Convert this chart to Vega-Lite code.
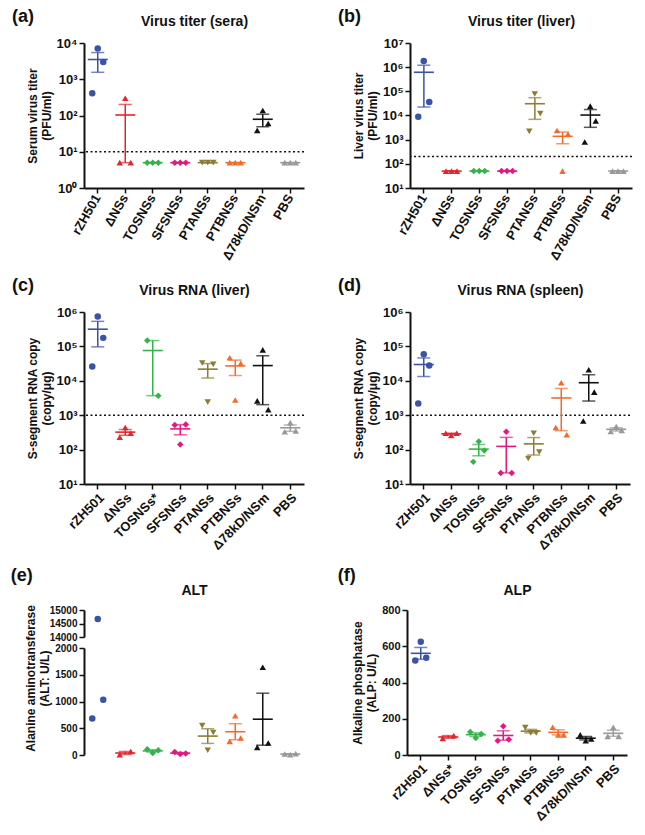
{
  "$schema": "https://vega.github.io/schema/vega-lite/v6.json",
  "padding": {"left": 10, "top": 8, "right": 4, "bottom": 4},
  "background": "white",
  "spacing": 14,
  "align": "each",
  "config": {
    "font": "Liberation Sans",
    "view": {"stroke": null},
    "concat": {"spacing": 33},
    "title": {"fontSize": 18, "fontWeight": "bold", "anchor": "start", "frame": "bounds", "color": "#111", "dx": -14, "offset": -12},
    "axis": {"labelFontWeight": "bold", "labelColor": "#111", "titleFontWeight": "bold", "titleColor": "#111", "titleFontSize": 12, "domainColor": "#111", "domainWidth": 2, "tickColor": "#111", "tickWidth": 1.5, "tickSize": 5, "grid": false, "labelFontSize": 13}
  },
  "datasets": {
    "a": [
      {"g": "rZH501", "m": 1, "v": 410}, {"g": "rZH501", "m": 2, "v": 7100}, {"g": "rZH501", "m": 3, "v": 3000},
      {"g": "ΔNSs", "m": 1, "v": 5}, {"g": "ΔNSs", "m": 2, "v": 300}, {"g": "ΔNSs", "m": 3, "v": 5},
      {"g": "TOSNSs", "m": 1, "v": 5}, {"g": "TOSNSs", "m": 2, "v": 5}, {"g": "TOSNSs", "m": 3, "v": 5},
      {"g": "SFSNSs", "m": 1, "v": 5}, {"g": "SFSNSs", "m": 2, "v": 5}, {"g": "SFSNSs", "m": 3, "v": 5},
      {"g": "PTANSs", "m": 1, "v": 5}, {"g": "PTANSs", "m": 2, "v": 5}, {"g": "PTANSs", "m": 3, "v": 5},
      {"g": "PTBNSs", "m": 1, "v": 5}, {"g": "PTBNSs", "m": 2, "v": 5}, {"g": "PTBNSs", "m": 3, "v": 5},
      {"g": "Δ78kD/NSm", "m": 1, "v": 39}, {"g": "Δ78kD/NSm", "m": 2, "v": 137}, {"g": "Δ78kD/NSm", "m": 3, "v": 60},
      {"g": "PBS", "m": 1, "v": 5}, {"g": "PBS", "m": 2, "v": 5}, {"g": "PBS", "m": 3, "v": 5}
    ],
    "b": [
      {"g": "rZH501", "m": 1, "v": 8800}, {"g": "rZH501", "m": 2, "v": 1800000}, {"g": "rZH501", "m": 3, "v": 36000},
      {"g": "ΔNSs", "m": 1, "v": 50}, {"g": "ΔNSs", "m": 2, "v": 50}, {"g": "ΔNSs", "m": 3, "v": 50},
      {"g": "TOSNSs", "m": 1, "v": 50}, {"g": "TOSNSs", "m": 2, "v": 50}, {"g": "TOSNSs", "m": 3, "v": 50},
      {"g": "SFSNSs", "m": 1, "v": 50}, {"g": "SFSNSs", "m": 2, "v": 50}, {"g": "SFSNSs", "m": 3, "v": 50},
      {"g": "PTANSs", "m": 1, "v": 2200}, {"g": "PTANSs", "m": 2, "v": 78000}, {"g": "PTANSs", "m": 3, "v": 12000},
      {"g": "PTBNSs", "m": 1, "v": 2400}, {"g": "PTBNSs", "m": 2, "v": 50}, {"g": "PTBNSs", "m": 3, "v": 1670},
      {"g": "Δ78kD/NSm", "m": 1, "v": 800}, {"g": "Δ78kD/NSm", "m": 2, "v": 24500}, {"g": "Δ78kD/NSm", "m": 3, "v": 6000},
      {"g": "PBS", "m": 1, "v": 50}, {"g": "PBS", "m": 2, "v": 50}, {"g": "PBS", "m": 3, "v": 50}
    ],
    "c": [
      {"g": "rZH501", "m": 1, "v": 26000}, {"g": "rZH501", "m": 2, "v": 745000}, {"g": "rZH501", "m": 3, "v": 177000},
      {"g": "ΔNSs", "m": 1, "v": 229}, {"g": "ΔNSs", "m": 2, "v": 437}, {"g": "ΔNSs", "m": 3, "v": 300},
      {"g": "TOSNSs", "m": 1, "v": 148000}, {"g": "TOSNSs", "m": 3, "v": 3700},
      {"g": "SFSNSs", "m": 1, "v": 520}, {"g": "SFSNSs", "m": 2, "v": 141}, {"g": "SFSNSs", "m": 3, "v": 540},
      {"g": "PTANSs", "m": 1, "v": 33000}, {"g": "PTANSs", "m": 2, "v": 2400}, {"g": "PTANSs", "m": 3, "v": 30000},
      {"g": "PTBNSs", "m": 1, "v": 46600}, {"g": "PTBNSs", "m": 2, "v": 2760}, {"g": "PTBNSs", "m": 3, "v": 32000},
      {"g": "Δ78kD/NSm", "m": 1, "v": 2600}, {"g": "Δ78kD/NSm", "m": 2, "v": 79000}, {"g": "Δ78kD/NSm", "m": 3, "v": 1450},
      {"g": "PBS", "m": 1, "v": 330}, {"g": "PBS", "m": 2, "v": 610}, {"g": "PBS", "m": 3, "v": 350}
    ],
    "d": [
      {"g": "rZH501", "m": 1, "v": 2200}, {"g": "rZH501", "m": 2, "v": 59000}, {"g": "rZH501", "m": 3, "v": 28000},
      {"g": "ΔNSs", "m": 1, "v": 300}, {"g": "ΔNSs", "m": 2, "v": 260}, {"g": "ΔNSs", "m": 3, "v": 300},
      {"g": "TOSNSs", "m": 1, "v": 44}, {"g": "TOSNSs", "m": 2, "v": 172}, {"g": "TOSNSs", "m": 3, "v": 94},
      {"g": "SFSNSs", "m": 1, "v": 21}, {"g": "SFSNSs", "m": 2, "v": 330}, {"g": "SFSNSs", "m": 3, "v": 21},
      {"g": "PTANSs", "m": 1, "v": 55}, {"g": "PTANSs", "m": 2, "v": 300}, {"g": "PTANSs", "m": 3, "v": 85},
      {"g": "PTBNSs", "m": 1, "v": 440}, {"g": "PTBNSs", "m": 2, "v": 8800}, {"g": "PTBNSs", "m": 3, "v": 270},
      {"g": "Δ78kD/NSm", "m": 1, "v": 680}, {"g": "Δ78kD/NSm", "m": 2, "v": 21000}, {"g": "Δ78kD/NSm", "m": 3, "v": 4700},
      {"g": "PBS", "m": 1, "v": 335}, {"g": "PBS", "m": 2, "v": 470}, {"g": "PBS", "m": 3, "v": 360}
    ],
    "e": [
      {"g": "rZH501", "m": 1, "v": 683}, {"g": "rZH501", "m": 2, "v": 14670}, {"g": "rZH501", "m": 3, "v": 1031},
      {"g": "ΔNSs", "m": 1, "v": 8}, {"g": "ΔNSs", "m": 3, "v": 66},
      {"g": "TOSNSs", "m": 1, "v": 106}, {"g": "TOSNSs", "m": 2, "v": 37}, {"g": "TOSNSs", "m": 3, "v": 87},
      {"g": "SFSNSs", "m": 1, "v": 56}, {"g": "SFSNSs", "m": 2, "v": 20}, {"g": "SFSNSs", "m": 3, "v": 28},
      {"g": "PTANSs", "m": 1, "v": 550}, {"g": "PTANSs", "m": 2, "v": 90}, {"g": "PTANSs", "m": 3, "v": 420},
      {"g": "PTBNSs", "m": 1, "v": 255}, {"g": "PTBNSs", "m": 2, "v": 733}, {"g": "PTBNSs", "m": 3, "v": 317},
      {"g": "Δ78kD/NSm", "m": 1, "v": 143}, {"g": "Δ78kD/NSm", "m": 2, "v": 1640}, {"g": "Δ78kD/NSm", "m": 3, "v": 224},
      {"g": "PBS", "m": 1, "v": 19}, {"g": "PBS", "m": 2, "v": 6}, {"g": "PBS", "m": 3, "v": 25}
    ],
    "f": [
      {"g": "rZH501", "m": 1, "v": 522}, {"g": "rZH501", "m": 2, "v": 625}, {"g": "rZH501", "m": 3, "v": 536},
      {"g": "ΔNSs", "m": 1, "v": 92}, {"g": "ΔNSs", "m": 3, "v": 107},
      {"g": "TOSNSs", "m": 1, "v": 127}, {"g": "TOSNSs", "m": 2, "v": 94}, {"g": "TOSNSs", "m": 3, "v": 116},
      {"g": "SFSNSs", "m": 1, "v": 79}, {"g": "SFSNSs", "m": 2, "v": 159}, {"g": "SFSNSs", "m": 3, "v": 85},
      {"g": "PTANSs", "m": 1, "v": 151}, {"g": "PTANSs", "m": 2, "v": 122}, {"g": "PTANSs", "m": 3, "v": 122},
      {"g": "PTBNSs", "m": 1, "v": 153}, {"g": "PTBNSs", "m": 2, "v": 111}, {"g": "PTBNSs", "m": 3, "v": 111},
      {"g": "Δ78kD/NSm", "m": 1, "v": 111}, {"g": "Δ78kD/NSm", "m": 2, "v": 79}, {"g": "Δ78kD/NSm", "m": 3, "v": 88},
      {"g": "PBS", "m": 1, "v": 103}, {"g": "PBS", "m": 2, "v": 153}, {"g": "PBS", "m": 3, "v": 103}
    ]
  },
  "vconcat": [
    {
      "hconcat": [
        {
          "title": {"text": "(a)"},
          "width": 220, "height": 145,
          "data": {"name": "a"},
          "resolve": {"axis": {"x": "independent"}},
          "layer": [
            {"data": {"values": [{}]}, "mark": {"type": "rule", "strokeDash": [2, 2.5], "strokeWidth": 1.5, "color": "#111"},
             "encoding": {"y": {"datum": 10, "type": "quantitative", "scale": {"type": "log", "domain": [1, 10000], "nice": false}, "axis": {"values": [1, 10, 100, 1000, 10000], "labelExpr": "'10' + ['⁰','¹','²','³','⁴','⁵','⁶','⁷'][round(log(datum.value)/LN10)]", "title": ["Serum virus titer", "(PFU/ml)"], "titlePadding": 3}}}},
            {"mark": {"type": "errorbar", "extent": "stderr", "ticks": true, "size": 13, "thickness": 1.5},
             "encoding": {
               "x": {"field": "g", "type": "nominal", "scale": {"type": "band", "domain": ["rZH501", "ΔNSs", "TOSNSs", "SFSNSs", "PTANSs", "PTBNSs", "Δ78kD/NSm", "PBS"], "paddingInner": 0, "paddingOuter": 0}, "axis": null},
               "y": {"field": "v", "type": "quantitative", "scale": {"type": "log", "domain": [1, 10000], "nice": false}, "axis": {"values": [1, 10, 100, 1000, 10000], "labelExpr": "'10' + ['⁰','¹','²','³','⁴','⁵','⁶','⁷'][round(log(datum.value)/LN10)]", "title": ["Serum virus titer", "(PFU/ml)"], "titlePadding": 3}},
               "color": {"field": "g", "type": "nominal", "scale": {"domain": ["rZH501", "ΔNSs", "TOSNSs", "SFSNSs", "PTANSs", "PTBNSs", "Δ78kD/NSm", "PBS"], "range": ["#3a53a4", "#e3262d", "#34b34a", "#e3197f", "#8b7d35", "#f26b2d", "#111111", "#999999"]}, "legend": null}}},
            {"mark": {"type": "tick", "size": 20, "thickness": 1.6},
             "encoding": {
               "x": {"field": "g", "type": "nominal", "scale": {"type": "band", "domain": ["rZH501", "ΔNSs", "TOSNSs", "SFSNSs", "PTANSs", "PTBNSs", "Δ78kD/NSm", "PBS"], "paddingInner": 0, "paddingOuter": 0}, "axis": {"orient": "top", "title": "Virus titer (sera)", "labels": false, "ticks": false, "domain": false, "titleFontSize": 14, "titlePadding": 15}},
               "y": {"aggregate": "mean", "field": "v", "type": "quantitative", "scale": {"type": "log", "domain": [1, 10000], "nice": false}, "axis": {"values": [1, 10, 100, 1000, 10000], "labelExpr": "'10' + ['⁰','¹','²','³','⁴','⁵','⁶','⁷'][round(log(datum.value)/LN10)]", "title": ["Serum virus titer", "(PFU/ml)"], "titlePadding": 3}},
               "color": {"field": "g", "type": "nominal", "scale": {"domain": ["rZH501", "ΔNSs", "TOSNSs", "SFSNSs", "PTANSs", "PTBNSs", "Δ78kD/NSm", "PBS"], "range": ["#3a53a4", "#e3262d", "#34b34a", "#e3197f", "#8b7d35", "#f26b2d", "#111111", "#999999"]}, "legend": null}}},
            {"mark": {"type": "point", "filled": true, "size": 42, "opacity": 1},
             "encoding": {
               "x": {"field": "g", "type": "nominal", "scale": {"type": "band", "domain": ["rZH501", "ΔNSs", "TOSNSs", "SFSNSs", "PTANSs", "PTBNSs", "Δ78kD/NSm", "PBS"], "paddingInner": 0, "paddingOuter": 0}, "axis": {"title": null, "labelAngle": -60, "labelPadding": 2}},
               "xOffset": {"field": "m", "type": "ordinal", "scale": {"domain": [1, 2, 3], "range": [5.5, 22]}},
               "y": {"field": "v", "type": "quantitative", "scale": {"type": "log", "domain": [1, 10000], "nice": false}, "axis": {"values": [1, 10, 100, 1000, 10000], "labelExpr": "'10' + ['⁰','¹','²','³','⁴','⁵','⁶','⁷'][round(log(datum.value)/LN10)]", "title": ["Serum virus titer", "(PFU/ml)"], "titlePadding": 3}},
               "color": {"field": "g", "type": "nominal", "scale": {"domain": ["rZH501", "ΔNSs", "TOSNSs", "SFSNSs", "PTANSs", "PTBNSs", "Δ78kD/NSm", "PBS"], "range": ["#3a53a4", "#e3262d", "#34b34a", "#e3197f", "#8b7d35", "#f26b2d", "#111111", "#999999"]}, "legend": null},
               "shape": {"field": "g", "type": "nominal", "scale": {"domain": ["rZH501", "ΔNSs", "TOSNSs", "SFSNSs", "PTANSs", "PTBNSs", "Δ78kD/NSm", "PBS"], "range": ["circle", "triangle-up", "diamond", "diamond", "triangle-down", "triangle-up", "triangle-up", "triangle-up"]}, "legend": null}}}
          ]
        },
        {
          "title": {"text": "(b)"},
          "width": 222, "height": 145,
          "data": {"name": "b"},
          "resolve": {"axis": {"x": "independent"}},
          "layer": [
            {"data": {"values": [{}]}, "mark": {"type": "rule", "strokeDash": [2, 2.5], "strokeWidth": 1.5, "color": "#111"},
             "encoding": {"y": {"datum": 200, "type": "quantitative", "scale": {"type": "log", "domain": [10, 10000000], "nice": false}, "axis": {"values": [10, 100, 1000, 10000, 100000, 1000000, 10000000], "labelExpr": "'10' + ['⁰','¹','²','³','⁴','⁵','⁶','⁷'][round(log(datum.value)/LN10)]", "title": ["Liver virus titer", "(PFU/ml)"], "titlePadding": 3}}}},
            {"mark": {"type": "errorbar", "extent": "stderr", "ticks": true, "size": 13, "thickness": 1.5},
             "encoding": {
               "x": {"field": "g", "type": "nominal", "scale": {"type": "band", "domain": ["rZH501", "ΔNSs", "TOSNSs", "SFSNSs", "PTANSs", "PTBNSs", "Δ78kD/NSm", "PBS"], "paddingInner": 0, "paddingOuter": 0}, "axis": null},
               "y": {"field": "v", "type": "quantitative", "scale": {"type": "log", "domain": [10, 10000000], "nice": false}, "axis": {"values": [10, 100, 1000, 10000, 100000, 1000000, 10000000], "labelExpr": "'10' + ['⁰','¹','²','³','⁴','⁵','⁶','⁷'][round(log(datum.value)/LN10)]", "title": ["Liver virus titer", "(PFU/ml)"], "titlePadding": 3}},
               "color": {"field": "g", "type": "nominal", "scale": {"domain": ["rZH501", "ΔNSs", "TOSNSs", "SFSNSs", "PTANSs", "PTBNSs", "Δ78kD/NSm", "PBS"], "range": ["#3a53a4", "#e3262d", "#34b34a", "#e3197f", "#8b7d35", "#f26b2d", "#111111", "#999999"]}, "legend": null}}},
            {"mark": {"type": "tick", "size": 20, "thickness": 1.6},
             "encoding": {
               "x": {"field": "g", "type": "nominal", "scale": {"type": "band", "domain": ["rZH501", "ΔNSs", "TOSNSs", "SFSNSs", "PTANSs", "PTBNSs", "Δ78kD/NSm", "PBS"], "paddingInner": 0, "paddingOuter": 0}, "axis": {"orient": "top", "title": "Virus titer (liver)", "labels": false, "ticks": false, "domain": false, "titleFontSize": 14, "titlePadding": 15}},
               "y": {"aggregate": "mean", "field": "v", "type": "quantitative", "scale": {"type": "log", "domain": [10, 10000000], "nice": false}, "axis": {"values": [10, 100, 1000, 10000, 100000, 1000000, 10000000], "labelExpr": "'10' + ['⁰','¹','²','³','⁴','⁵','⁶','⁷'][round(log(datum.value)/LN10)]", "title": ["Liver virus titer", "(PFU/ml)"], "titlePadding": 3}},
               "color": {"field": "g", "type": "nominal", "scale": {"domain": ["rZH501", "ΔNSs", "TOSNSs", "SFSNSs", "PTANSs", "PTBNSs", "Δ78kD/NSm", "PBS"], "range": ["#3a53a4", "#e3262d", "#34b34a", "#e3197f", "#8b7d35", "#f26b2d", "#111111", "#999999"]}, "legend": null}}},
            {"mark": {"type": "point", "filled": true, "size": 42, "opacity": 1},
             "encoding": {
               "x": {"field": "g", "type": "nominal", "scale": {"type": "band", "domain": ["rZH501", "ΔNSs", "TOSNSs", "SFSNSs", "PTANSs", "PTBNSs", "Δ78kD/NSm", "PBS"], "paddingInner": 0, "paddingOuter": 0}, "axis": {"title": null, "labelAngle": -60, "labelPadding": 2}},
               "xOffset": {"field": "m", "type": "ordinal", "scale": {"domain": [1, 2, 3], "range": [5.5, 22]}},
               "y": {"field": "v", "type": "quantitative", "scale": {"type": "log", "domain": [10, 10000000], "nice": false}, "axis": {"values": [10, 100, 1000, 10000, 100000, 1000000, 10000000], "labelExpr": "'10' + ['⁰','¹','²','³','⁴','⁵','⁶','⁷'][round(log(datum.value)/LN10)]", "title": ["Liver virus titer", "(PFU/ml)"], "titlePadding": 3}},
               "color": {"field": "g", "type": "nominal", "scale": {"domain": ["rZH501", "ΔNSs", "TOSNSs", "SFSNSs", "PTANSs", "PTBNSs", "Δ78kD/NSm", "PBS"], "range": ["#3a53a4", "#e3262d", "#34b34a", "#e3197f", "#8b7d35", "#f26b2d", "#111111", "#999999"]}, "legend": null},
               "shape": {"field": "g", "type": "nominal", "scale": {"domain": ["rZH501", "ΔNSs", "TOSNSs", "SFSNSs", "PTANSs", "PTBNSs", "Δ78kD/NSm", "PBS"], "range": ["circle", "triangle-up", "diamond", "diamond", "triangle-down", "triangle-up", "triangle-up", "triangle-up"]}, "legend": null}}}
          ]
        }
      ]
    },
    {
      "hconcat": [
        {
          "title": {"text": "(c)"},
          "width": 220, "height": 172,
          "data": {"name": "c"},
          "resolve": {"axis": {"x": "independent"}},
          "layer": [
            {"data": {"values": [{}]}, "mark": {"type": "rule", "strokeDash": [2, 2.5], "strokeWidth": 1.5, "color": "#111"},
             "encoding": {"y": {"datum": 1000, "type": "quantitative", "scale": {"type": "log", "domain": [10, 1000000], "nice": false}, "axis": {"values": [10, 100, 1000, 10000, 100000, 1000000], "labelExpr": "'10' + ['⁰','¹','²','³','⁴','⁵','⁶','⁷'][round(log(datum.value)/LN10)]", "title": ["S-segment RNA copy", "(copy/μg)"], "titlePadding": 3}}}},
            {"mark": {"type": "errorbar", "extent": "stderr", "ticks": true, "size": 13, "thickness": 1.5},
             "encoding": {
               "x": {"field": "g", "type": "nominal", "scale": {"type": "band", "domain": ["rZH501", "ΔNSs", "TOSNSs", "SFSNSs", "PTANSs", "PTBNSs", "Δ78kD/NSm", "PBS"], "paddingInner": 0, "paddingOuter": 0}, "axis": null},
               "y": {"field": "v", "type": "quantitative", "scale": {"type": "log", "domain": [10, 1000000], "nice": false}, "axis": {"values": [10, 100, 1000, 10000, 100000, 1000000], "labelExpr": "'10' + ['⁰','¹','²','³','⁴','⁵','⁶','⁷'][round(log(datum.value)/LN10)]", "title": ["S-segment RNA copy", "(copy/μg)"], "titlePadding": 3}},
               "color": {"field": "g", "type": "nominal", "scale": {"domain": ["rZH501", "ΔNSs", "TOSNSs", "SFSNSs", "PTANSs", "PTBNSs", "Δ78kD/NSm", "PBS"], "range": ["#3a53a4", "#e3262d", "#34b34a", "#e3197f", "#8b7d35", "#f26b2d", "#111111", "#999999"]}, "legend": null}}},
            {"mark": {"type": "tick", "size": 20, "thickness": 1.6},
             "encoding": {
               "x": {"field": "g", "type": "nominal", "scale": {"type": "band", "domain": ["rZH501", "ΔNSs", "TOSNSs", "SFSNSs", "PTANSs", "PTBNSs", "Δ78kD/NSm", "PBS"], "paddingInner": 0, "paddingOuter": 0}, "axis": {"orient": "top", "title": "Virus RNA (liver)", "labels": false, "ticks": false, "domain": false, "titleFontSize": 14, "titlePadding": 15}},
               "y": {"aggregate": "mean", "field": "v", "type": "quantitative", "scale": {"type": "log", "domain": [10, 1000000], "nice": false}, "axis": {"values": [10, 100, 1000, 10000, 100000, 1000000], "labelExpr": "'10' + ['⁰','¹','²','³','⁴','⁵','⁶','⁷'][round(log(datum.value)/LN10)]", "title": ["S-segment RNA copy", "(copy/μg)"], "titlePadding": 3}},
               "color": {"field": "g", "type": "nominal", "scale": {"domain": ["rZH501", "ΔNSs", "TOSNSs", "SFSNSs", "PTANSs", "PTBNSs", "Δ78kD/NSm", "PBS"], "range": ["#3a53a4", "#e3262d", "#34b34a", "#e3197f", "#8b7d35", "#f26b2d", "#111111", "#999999"]}, "legend": null}}},
            {"mark": {"type": "point", "filled": true, "size": 42, "opacity": 1},
             "encoding": {
               "x": {"field": "g", "type": "nominal", "scale": {"type": "band", "domain": ["rZH501", "ΔNSs", "TOSNSs", "SFSNSs", "PTANSs", "PTBNSs", "Δ78kD/NSm", "PBS"], "paddingInner": 0, "paddingOuter": 0}, "axis": {"title": null, "labelAngle": -45, "labelPadding": 2, "labelExpr": "datum.value == 'TOSNSs' ? 'TOSNSs*' : datum.value"}},
               "xOffset": {"field": "m", "type": "ordinal", "scale": {"domain": [1, 2, 3], "range": [5.5, 22]}},
               "y": {"field": "v", "type": "quantitative", "scale": {"type": "log", "domain": [10, 1000000], "nice": false}, "axis": {"values": [10, 100, 1000, 10000, 100000, 1000000], "labelExpr": "'10' + ['⁰','¹','²','³','⁴','⁵','⁶','⁷'][round(log(datum.value)/LN10)]", "title": ["S-segment RNA copy", "(copy/μg)"], "titlePadding": 3}},
               "color": {"field": "g", "type": "nominal", "scale": {"domain": ["rZH501", "ΔNSs", "TOSNSs", "SFSNSs", "PTANSs", "PTBNSs", "Δ78kD/NSm", "PBS"], "range": ["#3a53a4", "#e3262d", "#34b34a", "#e3197f", "#8b7d35", "#f26b2d", "#111111", "#999999"]}, "legend": null},
               "shape": {"field": "g", "type": "nominal", "scale": {"domain": ["rZH501", "ΔNSs", "TOSNSs", "SFSNSs", "PTANSs", "PTBNSs", "Δ78kD/NSm", "PBS"], "range": ["circle", "triangle-up", "diamond", "diamond", "triangle-down", "triangle-up", "triangle-up", "triangle-up"]}, "legend": null}}}
          ]
        },
        {
          "title": {"text": "(d)"},
          "width": 220, "height": 172,
          "data": {"name": "d"},
          "resolve": {"axis": {"x": "independent"}},
          "layer": [
            {"data": {"values": [{}]}, "mark": {"type": "rule", "strokeDash": [2, 2.5], "strokeWidth": 1.5, "color": "#111"},
             "encoding": {"y": {"datum": 1000, "type": "quantitative", "scale": {"type": "log", "domain": [10, 1000000], "nice": false}, "axis": {"values": [10, 100, 1000, 10000, 100000, 1000000], "labelExpr": "'10' + ['⁰','¹','²','³','⁴','⁵','⁶','⁷'][round(log(datum.value)/LN10)]", "title": ["S-segment RNA copy", "(copy/μg)"], "titlePadding": 3}}}},
            {"mark": {"type": "errorbar", "extent": "stderr", "ticks": true, "size": 13, "thickness": 1.5},
             "encoding": {
               "x": {"field": "g", "type": "nominal", "scale": {"type": "band", "domain": ["rZH501", "ΔNSs", "TOSNSs", "SFSNSs", "PTANSs", "PTBNSs", "Δ78kD/NSm", "PBS"], "paddingInner": 0, "paddingOuter": 0}, "axis": null},
               "y": {"field": "v", "type": "quantitative", "scale": {"type": "log", "domain": [10, 1000000], "nice": false}, "axis": {"values": [10, 100, 1000, 10000, 100000, 1000000], "labelExpr": "'10' + ['⁰','¹','²','³','⁴','⁵','⁶','⁷'][round(log(datum.value)/LN10)]", "title": ["S-segment RNA copy", "(copy/μg)"], "titlePadding": 3}},
               "color": {"field": "g", "type": "nominal", "scale": {"domain": ["rZH501", "ΔNSs", "TOSNSs", "SFSNSs", "PTANSs", "PTBNSs", "Δ78kD/NSm", "PBS"], "range": ["#3a53a4", "#e3262d", "#34b34a", "#e3197f", "#8b7d35", "#f26b2d", "#111111", "#999999"]}, "legend": null}}},
            {"mark": {"type": "tick", "size": 20, "thickness": 1.6},
             "encoding": {
               "x": {"field": "g", "type": "nominal", "scale": {"type": "band", "domain": ["rZH501", "ΔNSs", "TOSNSs", "SFSNSs", "PTANSs", "PTBNSs", "Δ78kD/NSm", "PBS"], "paddingInner": 0, "paddingOuter": 0}, "axis": {"orient": "top", "title": "Virus RNA (spleen)", "labels": false, "ticks": false, "domain": false, "titleFontSize": 14, "titlePadding": 15}},
               "y": {"aggregate": "mean", "field": "v", "type": "quantitative", "scale": {"type": "log", "domain": [10, 1000000], "nice": false}, "axis": {"values": [10, 100, 1000, 10000, 100000, 1000000], "labelExpr": "'10' + ['⁰','¹','²','³','⁴','⁵','⁶','⁷'][round(log(datum.value)/LN10)]", "title": ["S-segment RNA copy", "(copy/μg)"], "titlePadding": 3}},
               "color": {"field": "g", "type": "nominal", "scale": {"domain": ["rZH501", "ΔNSs", "TOSNSs", "SFSNSs", "PTANSs", "PTBNSs", "Δ78kD/NSm", "PBS"], "range": ["#3a53a4", "#e3262d", "#34b34a", "#e3197f", "#8b7d35", "#f26b2d", "#111111", "#999999"]}, "legend": null}}},
            {"mark": {"type": "point", "filled": true, "size": 42, "opacity": 1},
             "encoding": {
               "x": {"field": "g", "type": "nominal", "scale": {"type": "band", "domain": ["rZH501", "ΔNSs", "TOSNSs", "SFSNSs", "PTANSs", "PTBNSs", "Δ78kD/NSm", "PBS"], "paddingInner": 0, "paddingOuter": 0}, "axis": {"title": null, "labelAngle": -45, "labelPadding": 2}},
               "xOffset": {"field": "m", "type": "ordinal", "scale": {"domain": [1, 2, 3], "range": [5.5, 22]}},
               "y": {"field": "v", "type": "quantitative", "scale": {"type": "log", "domain": [10, 1000000], "nice": false}, "axis": {"values": [10, 100, 1000, 10000, 100000, 1000000], "labelExpr": "'10' + ['⁰','¹','²','³','⁴','⁵','⁶','⁷'][round(log(datum.value)/LN10)]", "title": ["S-segment RNA copy", "(copy/μg)"], "titlePadding": 3}},
               "color": {"field": "g", "type": "nominal", "scale": {"domain": ["rZH501", "ΔNSs", "TOSNSs", "SFSNSs", "PTANSs", "PTBNSs", "Δ78kD/NSm", "PBS"], "range": ["#3a53a4", "#e3262d", "#34b34a", "#e3197f", "#8b7d35", "#f26b2d", "#111111", "#999999"]}, "legend": null},
               "shape": {"field": "g", "type": "nominal", "scale": {"domain": ["rZH501", "ΔNSs", "TOSNSs", "SFSNSs", "PTANSs", "PTBNSs", "Δ78kD/NSm", "PBS"], "range": ["circle", "triangle-up", "diamond", "diamond", "triangle-down", "triangle-up", "triangle-up", "triangle-up"]}, "legend": null}}}
          ]
        }
      ]
    },
    {
      "hconcat": [
        {
          "title": {"text": "(e)", "offset": -2},
          "spacing": 11,
          "bounds": "flush",
          "vconcat": [
            {
              "width": 220, "height": 27,
              "data": {"name": "e"},
              "transform": [{"filter": "datum.v >= 14000"}],
              "mark": {"type": "point", "filled": true, "size": 42, "opacity": 1},
              "encoding": {
                "x": {"field": "g", "type": "nominal", "scale": {"type": "band", "domain": ["rZH501", "ΔNSs", "TOSNSs", "SFSNSs", "PTANSs", "PTBNSs", "Δ78kD/NSm", "PBS"], "paddingInner": 0, "paddingOuter": 0}, "axis": {"orient": "top", "title": "ALT", "labels": false, "ticks": false, "domain": false, "titleFontSize": 14, "titlePadding": 13}},
                "xOffset": {"field": "m", "type": "ordinal", "scale": {"domain": [1, 2, 3], "range": [5.5, 22]}},
                "y": {"field": "v", "type": "quantitative", "scale": {"domain": [14000, 15000], "nice": false, "zero": false}, "axis": {"values": [14000, 14500, 15000], "format": "d", "title": null, "labelFontSize": 10}},
                "color": {"field": "g", "type": "nominal", "scale": {"domain": ["rZH501", "ΔNSs", "TOSNSs", "SFSNSs", "PTANSs", "PTBNSs", "Δ78kD/NSm", "PBS"], "range": ["#3a53a4", "#e3262d", "#34b34a", "#e3197f", "#8b7d35", "#f26b2d", "#111111", "#999999"]}, "legend": null},
                "shape": {"field": "g", "type": "nominal", "scale": {"domain": ["rZH501", "ΔNSs", "TOSNSs", "SFSNSs", "PTANSs", "PTBNSs", "Δ78kD/NSm", "PBS"], "range": ["circle", "triangle-up", "diamond", "diamond", "triangle-down", "triangle-up", "triangle-up", "triangle-up"]}, "legend": null}
              }
            },
            {
              "width": 220, "height": 107,
              "data": {"name": "e"},
              "layer": [
                {"transform": [{"filter": "datum.g != 'rZH501'"}],
                 "mark": {"type": "errorbar", "extent": "stderr", "ticks": true, "size": 13, "thickness": 1.5},
                 "encoding": {
                   "x": {"field": "g", "type": "nominal", "scale": {"type": "band", "domain": ["rZH501", "ΔNSs", "TOSNSs", "SFSNSs", "PTANSs", "PTBNSs", "Δ78kD/NSm", "PBS"], "paddingInner": 0, "paddingOuter": 0}, "axis": null},
                   "y": {"field": "v", "type": "quantitative", "scale": {"domain": [0, 2000], "nice": false}, "axis": {"values": [0, 500, 1000, 1500, 2000], "format": "d", "title": ["Alanine aminotransferase", "(ALT: U/L)"], "titleY": 30, "labelFontSize": 10, "titlePadding": 3}},
                   "color": {"field": "g", "type": "nominal", "scale": {"domain": ["rZH501", "ΔNSs", "TOSNSs", "SFSNSs", "PTANSs", "PTBNSs", "Δ78kD/NSm", "PBS"], "range": ["#3a53a4", "#e3262d", "#34b34a", "#e3197f", "#8b7d35", "#f26b2d", "#111111", "#999999"]}, "legend": null}}},
                {"transform": [{"filter": "datum.g != 'rZH501'"}],
                 "mark": {"type": "tick", "size": 20, "thickness": 1.6},
                 "encoding": {
                   "x": {"field": "g", "type": "nominal", "scale": {"type": "band", "domain": ["rZH501", "ΔNSs", "TOSNSs", "SFSNSs", "PTANSs", "PTBNSs", "Δ78kD/NSm", "PBS"], "paddingInner": 0, "paddingOuter": 0}, "axis": null},
                   "y": {"aggregate": "mean", "field": "v", "type": "quantitative", "scale": {"domain": [0, 2000], "nice": false}, "axis": {"values": [0, 500, 1000, 1500, 2000], "format": "d", "title": ["Alanine aminotransferase", "(ALT: U/L)"], "titleY": 30, "labelFontSize": 10, "titlePadding": 3}},
                   "color": {"field": "g", "type": "nominal", "scale": {"domain": ["rZH501", "ΔNSs", "TOSNSs", "SFSNSs", "PTANSs", "PTBNSs", "Δ78kD/NSm", "PBS"], "range": ["#3a53a4", "#e3262d", "#34b34a", "#e3197f", "#8b7d35", "#f26b2d", "#111111", "#999999"]}, "legend": null}}},
                {"transform": [{"filter": "datum.v <= 2000"}],
                 "mark": {"type": "point", "filled": true, "size": 42, "opacity": 1},
                 "encoding": {
                   "x": {"field": "g", "type": "nominal", "scale": {"type": "band", "domain": ["rZH501", "ΔNSs", "TOSNSs", "SFSNSs", "PTANSs", "PTBNSs", "Δ78kD/NSm", "PBS"], "paddingInner": 0, "paddingOuter": 0}, "axis": {"title": null, "labelAngle": -45, "labelPadding": 2, "labelExpr": "datum.value == 'ΔNSs' ? 'ΔNSs*' : datum.value"}},
                   "xOffset": {"field": "m", "type": "ordinal", "scale": {"domain": [1, 2, 3], "range": [5.5, 22]}},
                   "y": {"field": "v", "type": "quantitative", "scale": {"domain": [0, 2000], "nice": false}, "axis": {"values": [0, 500, 1000, 1500, 2000], "format": "d", "title": ["Alanine aminotransferase", "(ALT: U/L)"], "titleY": 30, "labelFontSize": 10, "titlePadding": 3}},
                   "color": {"field": "g", "type": "nominal", "scale": {"domain": ["rZH501", "ΔNSs", "TOSNSs", "SFSNSs", "PTANSs", "PTBNSs", "Δ78kD/NSm", "PBS"], "range": ["#3a53a4", "#e3262d", "#34b34a", "#e3197f", "#8b7d35", "#f26b2d", "#111111", "#999999"]}, "legend": null},
                   "shape": {"field": "g", "type": "nominal", "scale": {"domain": ["rZH501", "ΔNSs", "TOSNSs", "SFSNSs", "PTANSs", "PTBNSs", "Δ78kD/NSm", "PBS"], "range": ["circle", "triangle-up", "diamond", "diamond", "triangle-down", "triangle-up", "triangle-up", "triangle-up"]}, "legend": null}}}
              ]
            }
          ]
        },
        {
          "title": {"text": "(f)", "offset": -2},
          "width": 220, "height": 145,
          "data": {"name": "f"},
          "resolve": {"axis": {"x": "independent"}},
          "layer": [
            {"mark": {"type": "errorbar", "extent": "stderr", "ticks": true, "size": 13, "thickness": 1.5},
             "encoding": {
               "x": {"field": "g", "type": "nominal", "scale": {"type": "band", "domain": ["rZH501", "ΔNSs", "TOSNSs", "SFSNSs", "PTANSs", "PTBNSs", "Δ78kD/NSm", "PBS"], "paddingInner": 0, "paddingOuter": 0}, "axis": null},
               "y": {"field": "v", "type": "quantitative", "scale": {"domain": [0, 800], "nice": false}, "axis": {"values": [0, 200, 400, 600, 800], "title": ["Alkaline phosphatase", "(ALP: U/L)"], "labelFontSize": 11, "titlePadding": 3}},
               "color": {"field": "g", "type": "nominal", "scale": {"domain": ["rZH501", "ΔNSs", "TOSNSs", "SFSNSs", "PTANSs", "PTBNSs", "Δ78kD/NSm", "PBS"], "range": ["#3a53a4", "#e3262d", "#34b34a", "#e3197f", "#8b7d35", "#f26b2d", "#111111", "#999999"]}, "legend": null}}},
            {"mark": {"type": "tick", "size": 20, "thickness": 1.6},
             "encoding": {
               "x": {"field": "g", "type": "nominal", "scale": {"type": "band", "domain": ["rZH501", "ΔNSs", "TOSNSs", "SFSNSs", "PTANSs", "PTBNSs", "Δ78kD/NSm", "PBS"], "paddingInner": 0, "paddingOuter": 0}, "axis": {"orient": "top", "title": "ALP", "labels": false, "ticks": false, "domain": false, "titleFontSize": 14, "titlePadding": 13}},
               "y": {"aggregate": "mean", "field": "v", "type": "quantitative", "scale": {"domain": [0, 800], "nice": false}, "axis": {"values": [0, 200, 400, 600, 800], "title": ["Alkaline phosphatase", "(ALP: U/L)"], "labelFontSize": 11, "titlePadding": 3}},
               "color": {"field": "g", "type": "nominal", "scale": {"domain": ["rZH501", "ΔNSs", "TOSNSs", "SFSNSs", "PTANSs", "PTBNSs", "Δ78kD/NSm", "PBS"], "range": ["#3a53a4", "#e3262d", "#34b34a", "#e3197f", "#8b7d35", "#f26b2d", "#111111", "#999999"]}, "legend": null}}},
            {"mark": {"type": "point", "filled": true, "size": 42, "opacity": 1},
             "encoding": {
               "x": {"field": "g", "type": "nominal", "scale": {"type": "band", "domain": ["rZH501", "ΔNSs", "TOSNSs", "SFSNSs", "PTANSs", "PTBNSs", "Δ78kD/NSm", "PBS"], "paddingInner": 0, "paddingOuter": 0}, "axis": {"title": null, "labelAngle": -45, "labelPadding": 2, "labelExpr": "datum.value == 'ΔNSs' ? 'ΔNSs*' : datum.value"}},
               "xOffset": {"field": "m", "type": "ordinal", "scale": {"domain": [1, 2, 3], "range": [5.5, 22]}},
               "y": {"field": "v", "type": "quantitative", "scale": {"domain": [0, 800], "nice": false}, "axis": {"values": [0, 200, 400, 600, 800], "title": ["Alkaline phosphatase", "(ALP: U/L)"], "labelFontSize": 11, "titlePadding": 3}},
               "color": {"field": "g", "type": "nominal", "scale": {"domain": ["rZH501", "ΔNSs", "TOSNSs", "SFSNSs", "PTANSs", "PTBNSs", "Δ78kD/NSm", "PBS"], "range": ["#3a53a4", "#e3262d", "#34b34a", "#e3197f", "#8b7d35", "#f26b2d", "#111111", "#999999"]}, "legend": null},
               "shape": {"field": "g", "type": "nominal", "scale": {"domain": ["rZH501", "ΔNSs", "TOSNSs", "SFSNSs", "PTANSs", "PTBNSs", "Δ78kD/NSm", "PBS"], "range": ["circle", "triangle-up", "diamond", "diamond", "triangle-down", "triangle-up", "triangle-up", "triangle-up"]}, "legend": null}}}
          ]
        }
      ]
    }
  ]
}
